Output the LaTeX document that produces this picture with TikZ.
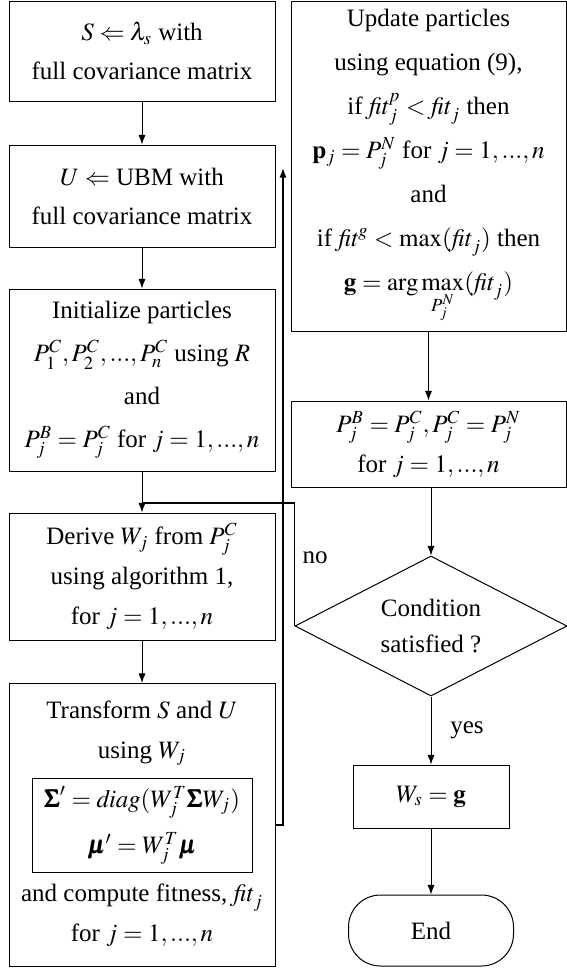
\documentclass[tikz,border=0pt]{standalone}
\usepackage{mathptmx}
\usepackage{bm}
\usepackage{fontspec}
\setmainfont{Liberation Serif}
\usepackage{tikz}
\usetikzlibrary{arrows.meta,shapes.geometric}

\begin{document}
\begin{tikzpicture}[x=0.5pt,y=-0.5pt,>={Latex[length=4.8pt,width=3.6pt]},font=\fontsize{12.5}{21}\selectfont]
\tikzset{
block/.style={draw,line width=0.5pt,minimum width=133pt,align=center,inner sep=0pt},
rblock/.style={block,minimum width=137.5pt},
txt/.style={align=center,inner sep=0pt},
inner/.style={draw,line width=0.5pt,minimum width=110pt,minimum height=47pt,align=center,inner sep=0pt},
cond/.style={diamond,draw,line width=0.5pt,shape aspect=2,minimum width=136pt,minimum height=70pt,align=center,inner sep=0pt,font=\fontsize{12.5}{18}\selectfont},
term/.style={draw,line width=0.5pt,rounded corners=16pt,minimum width=82.5pt,minimum height=35.5pt,inner sep=0pt},
lbl/.style={inner sep=0pt},
a/.style={->,line width=0.5pt},
back/.style={->,line width=0.7pt},
plain/.style={line width=0.7pt}}

\useasboundingbox (0,0) rectangle (567,970);

% left column
\node[block,minimum height=50pt,font=\fontsize{12.5}{19.5}\selectfont] (spk) at (142,51) {$S \Leftarrow \lambda_s$ with\\full covariance matrix};
\node[block,minimum height=51pt,font=\fontsize{12.5}{19.5}\selectfont] (ubm) at (142,196) {$U \Leftarrow$ UBM with\\full covariance matrix};
\node[block,minimum height=91pt,font=\fontsize{12.5}{21.5}\selectfont] (part) at (142,380) {Initialize particles\\$P_1^C,P_2^C,...,P_n^C$ using $R$\\and\\$P_j^B = P_j^C$ for $j=1,...,n$};
\node[block,minimum height=63.5pt,font=\fontsize{12.5}{20}\selectfont] (derive) at (142,576.5) {Derive $W_j$ from $P_j^C$\\using algorithm 1,\\for $j=1,...,n$};
\node[block,minimum height=141.5pt] (trans) at (142,825) {};
\node[txt,font=\fontsize{12.5}{20}\selectfont] (transtop) at (142,733) {Transform $S$ and $U$\\using $W_j$};
\node[inner,font=\fontsize{12.5}{23}\selectfont] (eqs) at (142,825) {$\bm{\Sigma}' = \mathit{diag}(W_j^T \bm{\Sigma} W_j)$\\$\bm{\mu}' = W_j^T \bm{\mu}$};
\node[txt,font=\fontsize{12.5}{20}\selectfont] (transbot) at (142,915) {and compute fitness, $\mathit{fit}_j$\\for $j=1,...,n$};

% right column
\node[rblock,minimum height=165pt,font=\fontsize{12.5}{22}\selectfont] (update) at (428.5,166) {Update particles\\using equation (9),\\if $\mathit{fit}_j^p < \mathit{fit}_j$ then\\$\mathbf{p}_j = P_j^N$ for $j=1,...,n$\\and\\if $\mathit{fit}^g < \max(\mathit{fit}_j)$ then\\$\mathbf{g} = \arg\max\limits_{P_j^N}(\mathit{fit}_j)$};
\node[rblock,minimum height=43pt,font=\fontsize{12.5}{20}\selectfont] (pbest) at (428.5,444) {$P_j^B = P_j^C, P_j^C = P_j^N$\\for $j=1,...,n$};
\node[cond] (check) at (431,626) {Condition\\satisfied ?};
\node[block,minimum width=78pt,minimum height=31.5pt] (ws) at (431,796.5) {$W_s = \mathbf{g}$};
\node[term] (end) at (431,930.5) {End};

\node[lbl] (no) at (315,558) {no};
\node[lbl] (yes) at (467,730) {yes};

\coordinate (join) at (142,503);
\coordinate (backtip) at (283,168);

\draw[a] (spk)--(ubm);
\draw[a] (ubm)--(part);
\draw[a] (part)--(derive);
\draw[a] (derive)--(trans);
\draw[a] (update)--(pbest);
\draw[a] (pbest.south -| check.north)--(check.north);
\draw[a] (check)--(ws);
\draw[a] (ws)--(end);

% loop back to the particle update, and the "no" branch into the derive step
\draw[back] (trans.east) -| (backtip);
\draw[plain] (check.west) |- (join);
\end{tikzpicture}
\end{document}
